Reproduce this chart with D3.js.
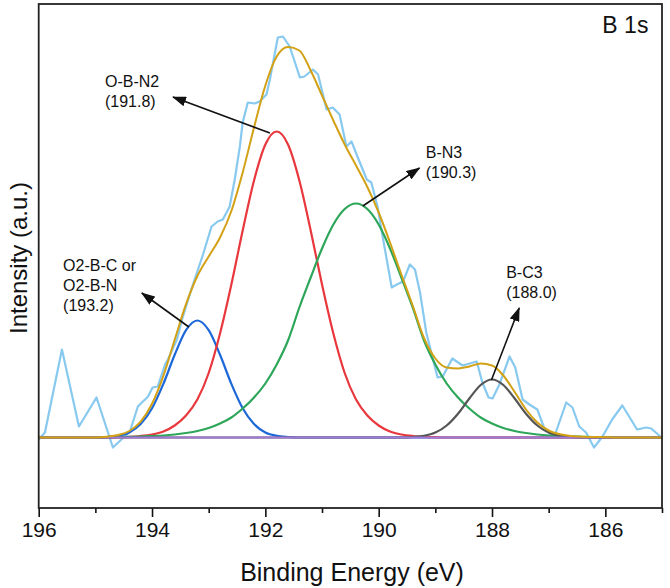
<!DOCTYPE html>
<html>
<head>
<meta charset="utf-8">
<script src="https://cdn.jsdelivr.net/npm/d3@7"></script>
<style>
  body { margin: 0; background: #fff; }
  text { font-family: "Liberation Sans", Arial, sans-serif; fill: #111; }
</style>
</head>
<body>
<div id="chart"></div>
<script>
// raw spectrum, vertices (binding energy eV, intensity a.u.)
var rawEnergy = [196.0, 195.89, 195.59, 195.29, 194.98, 194.69, 194.39, 194.25, 194.07, 193.99, 193.9, 193.77, 193.72, 193.56, 193.46,
    193.29, 193.1, 192.95, 192.84, 192.75, 192.63, 192.54, 192.45, 192.4, 192.31, 192.19, 192.1, 191.98, 191.92, 191.78, 191.69,
    191.57, 191.39, 191.31, 191.16, 191.07, 190.92, 190.81, 190.69, 190.57, 190.48, 190.34, 190.21, 190.13, 190.02, 189.93, 189.77,
    189.68, 189.57, 189.45, 189.36, 189.27, 189.16, 189.01, 188.96, 188.87, 188.7, 188.52, 188.27, 188.17, 188.06, 187.99, 187.87,
    187.69, 187.59, 187.46, 187.34, 187.2, 187.07, 186.9, 186.69, 186.58, 186.46, 186.34, 186.2, 186.05, 185.88, 185.7, 185.58,
    185.44, 185.28, 185.19, 185.01];
var rawIntensity = [-2, 5, 88, 11, 40, -10, 6, 31, 41, 50, 51, 73, 78, 98, 120,
    151, 183, 211, 216, 218, 231, 258, 291, 315, 335, 334, 336, 343, 358, 400, 401,
    391, 360, 361, 368, 363, 328, 330, 323, 291, 296, 276, 258, 255, 231, 201, 150,
    153, 156, 173, 168, 145, 105, 71, 60, 61, 79, 72, 76, 55, 40, 39, 53,
    81, 70, 38, 33, 28, 8, 1, 35, 30, 11, 5, -10, 1, 18, 32, 21,
    8, 10, 9, 0];

// energy grid of the fitted curves
var fitEnergy = [196.0, 195.8, 195.6, 195.4, 195.2, 195.0, 194.8, 194.6, 194.4, 194.2, 194.0, 193.8, 193.6, 193.4, 193.2, 193.0,
    192.8, 192.6, 192.4, 192.2, 192.0, 191.8, 191.6, 191.4, 191.2, 191.0, 190.8, 190.6, 190.4, 190.2, 190.0, 189.8,
    189.6, 189.4, 189.2, 189.0, 188.8, 188.6, 188.4, 188.2, 188.0, 187.8, 187.6, 187.4, 187.2, 187.0, 186.8, 186.6,
    186.4, 186.2, 186.0, 185.8, 185.6, 185.4, 185.2, 185.0];

// fitted components above background
var peakO2BC = [0, 0, 0, 0, 0, 0, 0.5, 1.7, 5.1, 13.4, 29.2, 53.6, 82.7, 107.3, 117, 107.3,
    82.7, 53.6, 29.2, 13.4, 5.1, 1.7, 0.5, 0, 0, 0, 0, 0, 0, 0, 0, 0,
    0, 0, 0, 0, 0, 0, 0, 0, 0, 0, 0, 0, 0, 0, 0, 0,
    0, 0, 0, 0, 0, 0, 0, 0];
var peakOBN2 = [0, 0, 0, 0, 0, 0, 0, 0.3, 0.7, 1.5, 3, 6, 12, 22, 38, 64.5,
    104, 153, 207, 257, 293, 306, 293, 257, 207, 153, 104, 64.5, 38, 22, 12, 6,
    3, 1.5, 0.7, 0.3, 0, 0, 0, 0, 0, 0, 0, 0, 0, 0, 0, 0,
    0, 0, 0, 0, 0, 0, 0, 0];
var peakBN3 = [0, 0, 0, 0, 0, 0, 0.3, 0.5, 0.7, 1, 1.5, 2, 3, 4.5, 6.5, 9.5,
    14, 20, 29, 40, 54, 73, 97, 130, 160, 189, 213, 228.5, 234, 228.5, 213, 189,
    160, 130, 97, 73, 54, 40, 29, 20, 14, 9.5, 6.5, 4.5, 3, 2, 1.5, 1,
    0.7, 0.5, 0.3, 0, 0, 0, 0, 0];
var peakBC3 = [0, 0, 0, 0, 0, 0, 0, 0, 0, 0, 0, 0, 0, 0, 0, 0,
    0, 0, 0, 0, 0, 0, 0, 0, 0, 0, 0, 0, 0, 0, 0, 0,
    0, 0.5, 1.7, 4.9, 12, 23.8, 39, 52.5, 58, 52.5, 39, 23.8, 12, 4.9, 1.7, 0.5,
    0, 0, 0, 0, 0, 0, 0, 0];
var envelope = [0, 0, 0, 0, 0, 0, 0.8, 2.5, 6.5, 15.9, 33.7, 61.6, 97.7, 133.3, 161.5, 181,
    200, 226.5, 265, 310, 352, 381, 390.5, 387, 367, 342, 317, 293, 272, 250.5, 225, 195,
    163, 132, 99.5, 79, 70, 69, 71, 74, 72, 62, 45.5, 28, 15, 7, 3.2, 1.5,
    0.7, 0.5, 0.3, 0, 0, 0, 0, 0];
var bgEnergy = [196.0, 185.0];
var bgIntensity = [0, 0];

var majorTicks = [196, 194, 192, 190, 188, 186];
var minorTicks = [195, 193, 191, 189, 187, 185];

// peak labels: text lines, label anchor, arrow tail (on the peak) and arrow head
var peakLabels = [
    { lines: ["O-B-N2", "(191.8)"], at: [194.83, 350.5], tail: [191.92, 304.5], head: [193.63, 340.5] },
    { lines: ["O2-B-C or", "O2-B-N", "(193.2)"], at: [195.57, 167], tail: [193.35, 110.5], head: [194.18, 144.5] },
    { lines: ["B-N3", "(190.3)"], at: [189.17, 279.5], tail: [190.28, 231.5], head: [189.28, 269.5] },
    { lines: ["B-C3", "(188.0)"], at: [187.75, 159.5], tail: [188.01, 57.5], head: [187.52, 129.5] }
];

var width = 670,
    height = 588;

var svg = d3.select("#chart")
    .append("svg")
    .attr("width", width)
    .attr("height", height);

var x = d3.scaleLinear().domain([196, 185]).range([38.7, 662]);
var y = d3.scaleLinear().domain([-70.5, 433.5]).range([508, 4]);

function series(es, vs) {
    return es.map(function (e, i) {
        return [e, vs[i]];
    });
}

var smooth = d3.line()
    .x(function (d) { return x(d[0]); })
    .y(function (d) { return y(d[1]); })
    .curve(d3.curveMonotoneX);

var straight = d3.line()
    .x(function (d) { return x(d[0]); })
    .y(function (d) { return y(d[1]); });

var plot = svg.append("g");

// raw data
plot.append("path")
    .attr("d", straight(series(rawEnergy, rawIntensity)))
    .attr("fill", "none")
    .attr("stroke", "#88c9ef")
    .attr("stroke-width", 2.2)
    .attr("stroke-linejoin", "round");

// components
var comps = [
    [peakO2BC, "#1d68d8"],
    [peakOBN2, "#e8383d"],
    [peakBN3, "#2ea65a"],
    [peakBC3, "#555555"]
];
comps.forEach(function (c) {
    plot.append("path")
        .attr("d", smooth(series(fitEnergy, c[0])))
        .attr("fill", "none")
        .attr("stroke", c[1])
        .attr("stroke-width", 2.2);
});

// background
plot.append("path")
    .attr("d", straight(series(bgEnergy, bgIntensity)))
    .attr("fill", "none")
    .attr("stroke", "#a07ad6")
    .attr("stroke-width", 2.2);

// cumulative fit
plot.append("path")
    .attr("d", smooth(series(fitEnergy, envelope)))
    .attr("fill", "none")
    .attr("stroke", "#d2a116")
    .attr("stroke-width", 2);

// arrow head
svg.append("defs").append("marker")
    .attr("id", "head")
    .attr("markerUnits", "userSpaceOnUse")
    .attr("viewBox", "0 0 14 10")
    .attr("refX", 13)
    .attr("refY", 5)
    .attr("markerWidth", 14)
    .attr("markerHeight", 10)
    .attr("orient", "auto")
    .append("path")
    .attr("d", "M0,0 L14,5 L0,10 Z")
    .attr("fill", "#111");

peakLabels.forEach(function (p) {
    svg.append("line")
        .attr("x1", x(p.tail[0]))
        .attr("y1", y(p.tail[1]))
        .attr("x2", x(p.head[0]))
        .attr("y2", y(p.head[1]))
        .attr("stroke", "#111")
        .attr("stroke-width", 1.6)
        .attr("marker-end", "url(#head)");

    var t = svg.append("text")
        .attr("x", x(p.at[0]))
        .attr("y", y(p.at[1]))
        .attr("font-size", "16px");
    p.lines.forEach(function (l, i) {
        t.append("tspan")
            .attr("x", x(p.at[0]))
            .attr("dy", i === 0 ? 0 : 20)
            .text(l);
    });
});

svg.append("text")
    .attr("x", x(185.24))
    .attr("y", y(404.5))
    .attr("text-anchor", "end")
    .attr("font-size", "23px")
    .text("B 1s");

// x axis, major and minor ticks
var xAxis = svg.append("g")
    .attr("transform", "translate(0,508)")
    .call(d3.axisBottom(x).tickValues(majorTicks).tickSize(9).tickPadding(5).tickFormat(d3.format("d")));
xAxis.selectAll("text").attr("font-size", "21px").attr("fill", "#111");
xAxis.selectAll("line").attr("stroke", "#111").attr("stroke-width", 1.6);
xAxis.select(".domain").remove();

var xMinor = svg.append("g")
    .attr("transform", "translate(0,508)")
    .call(d3.axisBottom(x).tickValues(minorTicks).tickSize(5).tickFormat(""));
xMinor.selectAll("line").attr("stroke", "#111").attr("stroke-width", 1.6);
xMinor.select(".domain").remove();

// frame
svg.append("rect")
    .attr("x", 38.7)
    .attr("y", 4)
    .attr("width", 662 - 38.7)
    .attr("height", 504)
    .attr("fill", "none")
    .attr("stroke", "#222")
    .attr("stroke-width", 1.8);

// axis titles
svg.append("text")
    .attr("x", 352)
    .attr("y", 581)
    .attr("text-anchor", "middle")
    .attr("font-size", "25px")
    .text("Binding Energy (eV)");

svg.append("text")
    .attr("transform", "translate(27,258) rotate(-90)")
    .attr("text-anchor", "middle")
    .attr("font-size", "24px")
    .text("Intensity (a.u.)");
</script>
</body>
</html>
